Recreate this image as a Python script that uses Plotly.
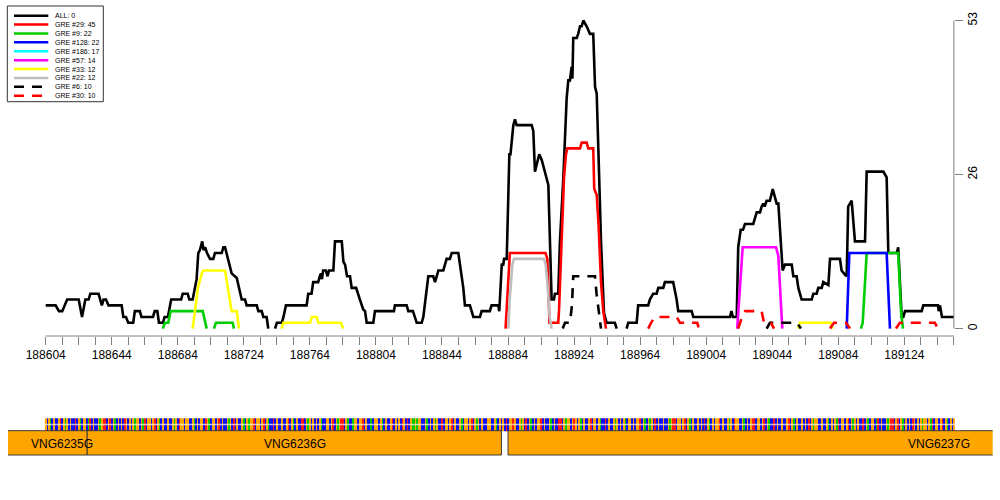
import plotly.graph_objects as go

# ---------------- data ----------------
# genomic position (bp) , count
ALL = [(188604,4),(188610,4),(188612,3),(188614,3),(188617,5),(188624,5),(188626,2),(188628,5),(188630,5),(188631,6),(188636,6),(188638,4),(188639,5),(188640.5,5),(188642,4),(188650,4),(188651,2),(188652.6,2),(188654,1),(188657,1),(188658,3),(188661,3),(188662,2),(188669,2),(188670,3),(188671.6,3),(188672.6,1),(188675,1),(188676,2),(188678,2),(188680,5),(188686,5),(188687,6),(188690,6),(188691,5),(188693,5),(188695.4,8.5),(188696.4,13),(188697.4,13.5),(188698.8,15),(188699.6,13.5),(188700.5,14),(188701.7,13),(188703.5,12),(188705.5,12),(188706.5,13),(188710.6,13),(188711.6,14),(188712.6,14),(188714.6,11.5),(188716.6,9.5),(188719.7,8.7),(188721.7,6),(188722.7,5),(188724.7,5),(188725.7,4),(188731.8,4),(188732.8,3),(188734.8,3),(188735.8,2),(188737.8,2),(188738.8,0),
       (188742.9,0),(188744,1),(188747,1),(188748,2),(188749.5,4),(188762,4),(188763,6),(188765,6),(188766,8),(188769,8),(188770,9),(188770.7,9.5),(188771.3,8.5),(188772,10),(188773.7,10),(188774.7,9),(188775.6,10),(188778.2,10),(188779.2,15),(188783.3,15),(188784.3,11.5),(188785.3,11),(188786.5,9),(188788.3,9),(188789.3,7),(188792,7),(188794.3,5),(188796.3,3.3),(188797.4,3),(188798.4,1),(188802.4,1),(188803.4,3),(188814.9,3),(188815.5,4),(188822.6,4),(188823.6,3),(188826.4,3),(188827.6,2),(188828.7,1),(188831.7,1),(188832.7,2),(188835.7,9),(188838.7,9),(188839.8,8),(188841.8,10),(188844.8,10),(188846.8,12),(188848.8,12),(188849.9,13),(188853.9,13),(188854.9,11),(188856.9,7),(188857.9,4),(188860.9,4),(188863,2),(188867,2),(188868,3),(188873,3),(188874,4),(188878.1,4),(188878.7,3),(188880.2,11),(188881.1,11),(188881.6,12),(188883.2,12),(188884.8,30),(188885.5,30),(188887.2,35),(188888.2,36),(188889.2,35),(188898.3,35),(188899.3,34),(188900.3,27),(188901.3,28),(188902.9,30),(188904.4,29),(188906.4,26.7),(188908.4,24.7),(188910.4,5),(188911.8,5),(188912.4,6),(188914.4,6),(188915.4,14.7),(188917.5,26),(188919.5,39.6),(188920.5,42.7),(188921.5,42.7),(188922.5,45),(188923,43),(188923.5,50),(188925.6,50),(188926.5,50.7),(188927.6,52),(188928.6,52),(188929.6,53),(188931.6,52),(188933.6,50.7),(188935.6,50.7),(188936.7,41.6),(188937.7,40.4),(188939.2,26),(188940.3,15),(188942.1,2.7),(188943.7,1),(188948.7,1),(188949.8,0),
       (188955.8,0),(188956.8,1),(188961.9,1),(188962.8,4),(188968.9,4),(188969.9,5),(188971.9,6),(188974,6),(188975,7),(188978,7),(188979,8),(188984,8),(188986.1,5),(188987.1,3),(188995.2,3),(188996.2,2),(189018.4,2),(189019.3,3),(189020.2,2),(189022.5,2),(189023.4,14),(189024.9,17),(189026.3,17),(189027.5,18),(189032.5,18),(189034.6,20),(189036.6,20),(189037.6,21),(189038.6,21.5),(189039.4,21),(189040.6,22),(189042.6,22),(189044.3,24),(189045.1,23),(189046.7,21.5),(189047.7,21.5),(189049.3,15),(189050.3,10),(189051.7,11),(189055.8,11),(189056.8,9),(189058.8,9),(189059.8,7),(189060.8,6),(189061.8,5),(189067.9,5),(189068.9,6),(189070.9,6),(189071.9,7),(189074,7),(189074.9,8),(189078,7.5),(189079,12),(189085,12),(189086,10),(189088,9.3),(189089.1,9),(189090,21),(189092.1,22),(189094.1,15),(189100.2,15),(189101.2,27),(189111.3,27),(189113.3,26),(189114.3,13),(189119.4,13),(189120.3,14),(189122.4,2),(189123.4,2),(189124.4,3),(189134.5,3),(189135.5,4),(189144.4,4),(189144.8,3),(189145.6,4),(189146.8,2),(189154,2)]

GRE29 = [(188882.5,0),(188885.1,13),(188906.7,13),(188907.8,12),(188909.1,1),(188914.4,1),(188914.9,3.3),(188915.9,11.8),(188916.8,20.4),(188917.9,26),(188919.1,30),(188919.9,31),(188927.6,31),(188928.6,32),(188931.6,32),(188932.6,31),(188935.6,31),(188936.2,24),(188937.7,23),(188938.8,18),(188940.3,8),(188941.7,3),(188943.3,0)]
GRE9 = [(188674.9,0),(188676.2,1),(188678.2,1),(188679.7,3),(188699.1,3),(188700.5,1),(188701.5,0),
        (188705.9,0),(188707.1,1),(188717.2,1),(188718,0),
        (189097.7,0),(189098.8,1),(189101.2,13),(189120.3,13),(189122,3),(189123.2,0)]
GRE128 = [(189089.1,0),(189090.7,13),(189113.3,13),(189115.3,0)]
GRE186 = []
GRE57 = [(189022.8,0),(189026.1,14),(189046.3,14),(189047.7,12.5),(189050.1,0)]
GRE33 = [(188693,0),(188696.2,7),(188698.5,9.5),(188699.4,10),(188712.6,10),(188716.6,3),(188719.7,3),(188721.1,0),
         (188746.9,0),(188747.9,1),(188764.1,1),(188765.1,2),(188768.1,2),(188769.1,1),(188782.7,1),(188784.2,0),
         (189059.8,0),(189060.8,1),(189079.4,1),(189080.6,0)]
GRE22 = [(188884.2,0),(188885,5),(188886.6,11),(188887.6,12),(188905.8,12),(188906.8,11),(188907.8,8),(188909.2,2),(188910.4,0)]
GRE6 = [(188917.1,0),(188918.5,1),(188921.5,1),(188922.7,4),(188923.5,9),(188936.7,9),(188937.6,6),(188939.3,2.5),(188940.3,0),
        (189040.6,0),(189042.6,1),(189059,1),(189061.4,0)]
GRE30 = [(188968.9,0),(188970.6,1),(188973,2),(188986.1,2),(188988.1,1),(188998.6,1),(188999.6,0),
         (189023.4,0),(189025.7,2),(189027.5,3),(189037.6,3),(189039,1),(189043.2,1),(189045.1,0),
         (189079,0),(189081.4,1),(189088.7,1),(189091.1,0),
         (189118.9,0),(189121.3,1),(189142.5,1),(189144.4,0)]

series_names = ["ALL", "GRE #29", "GRE #9", "GRE #128", "GRE #186", "GRE #57", "GRE #33", "GRE #22", "GRE #6", "GRE #30"]
series_counts = [0, 45, 22, 22, 17, 14, 12, 12, 10, 10]
series_points = [ALL, GRE29, GRE9, GRE128, GRE186, GRE57, GRE33, GRE22, GRE6, GRE30]
series_colors = ["#000000", "#FF0000", "#00CD00", "#0000FF", "#00FFFF", "#FF00FF", "#FFFF00", "#BEBEBE", "#000000", "#FF0000"]
series_dash = ["solid"] * 8 + ["10px,8px", "10px,8px"]

y_tick_vals = [0, 26.5, 53]
y_tick_text = ["0", "26", "53"]
x_axis_start, x_axis_end, x_tick_step, x_label_step = 188604, 189154, 10, 40

gene_names = ["VNG6236G", "VNG6235G", "VNG6237G"]
gene_starts = [188629, 188540, 188884]
gene_ends = [188880, 188629, 189406]
gene_label_pos = [188755, 188614, 189145]

seq_start = 188604
sequence = "".join([
    "GCGACGCCGT", "CGAGCGCCTC", "GACGGCATCG", "CCGAGTTCGT", "CGACGCGCTG",
    "CGCGAGGCGA", "TCGGCGTCGA", "CGCCGCCGAG", "CTGGCGGCCG", "ACGCGGCTGA",
    "CGGCGTCGCC", "GAGCTCGCCG", "ACGAGGTCGG", "CGTCGACCTC", "GCCGCCGTCG",
    "ACGCCTTCGA", "GCGCGCGACC", "GGCGTCGAGT", "TCGACCAGGC", "GGTCGCCACG",
    "GGCGACGCCG", "TCGCGCTGCT", "CGAAGAGGCC", "GACGCGAGCC", "TCGGCGTCGC",
    "CGACGGCGTC", "GAGCGCCCGG", "CCGACGCGCT", "CGGTGCCGAG", "CTCGACGCGG",
    "TCGCCGACGC", "CTTCGAGGCG", "TGCGACGCCG", "TCGGCGACCT", "CGCCGAGCGC",
    "GACGGCGCGG", "TCGACGAGCT", "CGCCGCCGAG", "TTCGGCGTCG", "ACGCCGCGCT",
    "CGACGCGGTC", "GCCGAGCTGG", "CCGACGCGTT", "CGGCGTCGAC", "CTCGCCGCCG",
    "TCGACGCCGC", "GCTCGAGGCC", "GCCGACGCGA", "TCGGCGTCGA", "GCGCCTCGAC",
    "GGCATCGCCG", "AGTTCGTCGA", "CGCGCTGCGC", "GAGGCGATCG", "GCGTCGACGC", "G"])
base_codes = {"A": 0, "C": 1, "G": 2, "T": 3}

# ---------------- layout geometry (pixels) ----------------
W, H = 1000, 500
X0_PX, PX_PER_BP = 45.7, 1.6512          # pixel of x_axis_start, scale
Y0_PX, Y53_PX = 328.6, 20.5               # pixel of value 0 and 53
PLOT_TOP, PLOT_BOT = 8, 336
PX_PER_UNIT = (Y0_PX - Y53_PX) / 53.0

xlo = x_axis_start - X0_PX / PX_PER_BP
xhi = x_axis_start + (W - X0_PX) / PX_PER_BP
ylo = -(PLOT_BOT - Y0_PX) / PX_PER_UNIT
yhi = (Y0_PX - PLOT_TOP) / PX_PER_UNIT
GX0, GX1 = 8, 992.7
x2lo = x_axis_start - (X0_PX - GX0) / PX_PER_BP
x2hi = x_axis_start + (GX1 - X0_PX) / PX_PER_BP

def py(p):
    return 1 - p / H

def px(p):
    return p / W

FONT = "Liberation Sans, Arial, Helvetica, sans-serif"

fig = go.Figure()

def build(pts):
    xs, ys, prev = [], [], None
    for x, y in pts:
        if prev == 0 and y == 0:
            xs.append(None); ys.append(None)
        xs.append(x); ys.append(y)
        prev = y
    return xs, ys

for pts, col, dash in zip(series_points, series_colors, series_dash):
    xs, ys = build(pts)
    fig.add_trace(go.Scatter(x=xs, y=ys, mode="lines",
                             line=dict(color=col, width=2.6, dash=dash),
                             hoverinfo="skip", showlegend=False,
                             xaxis="x", yaxis="y"))

# gene boxes
for s, e in zip(gene_starts, gene_ends):
    fig.add_trace(go.Scatter(x=[s, e, e, s, s], y=[1, 1, 5.86, 5.86, 1], mode="lines",
                             fill="toself", fillcolor="#FFA500",
                             line=dict(color="#3a3a3a", width=1),
                             hoverinfo="skip", showlegend=False, xaxis="x2", yaxis="y2"))

# sequence track
codes = [base_codes[b] for b in sequence]
seq_x = [seq_start + i for i in range(len(sequence))]
fig.add_trace(go.Heatmap(z=[codes], x0=seq_start, dx=1, y0=7.05, dy=2.6,
                         zmin=-0.5, zmax=3.5, showscale=False, hoverinfo="skip",
                         colorscale=[[0, "#00C800"], [0.25, "#00C800"], [0.25, "#1010F0"], [0.5, "#1010F0"],
                                     [0.5, "#FFA500"], [0.75, "#FFA500"], [0.75, "#FF1A1A"], [1, "#FF1A1A"]],
                         xaxis="x2", yaxis="y2"))
fig.add_trace(go.Scatter(x=seq_x, y=[7.1] * len(seq_x), mode="markers",
                         marker=dict(symbol="square", size=1.6, color="white", opacity=0.75),
                         hoverinfo="skip", showlegend=False, xaxis="x2", yaxis="y2"))

annotations = []
for name, pos in zip(gene_names, gene_label_pos):
    annotations.append(dict(x=pos, y=3.3, xref="x2", yref="y2", text=name, showarrow=False,
                            font=dict(family=FONT, size=12, color="black")))

tick_x = list(range(x_axis_start, x_axis_end + 1, x_tick_step))
tick_t = [str(v) if (v - x_axis_start) % x_label_step == 0 else "" for v in tick_x]

shapes = [
    dict(type="line", xref="x", yref="paper", x0=x_axis_start, x1=x_axis_end,
         y0=py(PLOT_BOT), y1=py(PLOT_BOT), line=dict(color="#808080", width=1)),
    dict(type="line", xref="x", yref="y", x0=x_axis_end, x1=x_axis_end,
         y0=y_tick_vals[0], y1=y_tick_vals[-1], line=dict(color="#808080", width=1)),
]

# manual legend
LX0, LX1, LY0, LY1 = 7.3, 103.3, 6, 101.7
shapes.append(dict(type="rect", xref="paper", yref="paper", x0=px(LX0), x1=px(LX1),
                   y0=py(LY1), y1=py(LY0), line=dict(color="#333333", width=1), fillcolor="white"))
for i, (nm, cnt, col, dash) in enumerate(zip(series_names, series_counts, series_colors, series_dash)):
    yy = 15.7 + i * 8.89
    shapes.append(dict(type="line", xref="paper", yref="paper", x0=px(14), x1=px(48.3),
                       y0=py(yy), y1=py(yy), line=dict(color=col, width=2.5, dash=dash)))
    annotations.append(dict(x=px(53), y=py(yy), xref="paper", yref="paper", xanchor="left",
                            yanchor="middle", text=f"{nm}: {cnt}", showarrow=False,
                            font=dict(family=FONT, size=7, color="black")))

fig.update_layout(
    width=W, height=H, margin=dict(l=0, r=0, t=0, b=0),
    paper_bgcolor="white", plot_bgcolor="white", showlegend=False,
    font=dict(family=FONT, size=12, color="black"),
    xaxis=dict(domain=[0, 1], range=[xlo, xhi], anchor="y", tickmode="array",
               tickvals=tick_x, ticktext=tick_t, ticks="outside", ticklen=8, tickwidth=1,
               tickcolor="#808080", showline=False, showgrid=False, zeroline=False,
               tickfont=dict(family=FONT, size=12, color="black")),
    yaxis=dict(domain=[py(PLOT_BOT), py(PLOT_TOP)], range=[ylo, yhi], anchor="free",
               position=px(X0_PX + (x_axis_end - x_axis_start) * PX_PER_BP), side="right",
               tickmode="array", tickvals=y_tick_vals, ticktext=y_tick_text, ticks="outside",
               ticklen=8, tickwidth=1, tickcolor="#808080", tickangle=-90,
               showline=False, showgrid=False, zeroline=False,
               tickfont=dict(family=FONT, size=12, color="black")),
    xaxis2=dict(domain=[px(GX0), px(GX1)], range=[x2lo, x2hi], anchor="y2", visible=False),
    yaxis2=dict(domain=[py(460), py(410)], range=[0, 10], anchor="x2", visible=False),
    shapes=shapes, annotations=annotations,
)

fig.write_html("out.html", config={"displayModeBar": False},
               post_script="document.body.style.margin='0px';")
